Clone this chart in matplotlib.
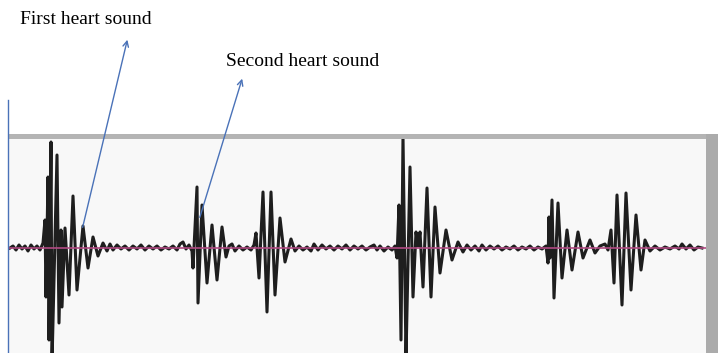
import matplotlib.pyplot as plt
from matplotlib.patches import Rectangle

# Heart sound trace: time (sample index) and amplitude (a.u.)
time = [10, 13, 16, 19, 22, 25, 28, 31, 34, 37, 40, 43,
        45, 46, 48, 49, 51, 52, 57, 59, 61, 62, 65, 69, 73, 77, 83, 88, 93, 98, 103, 107, 110, 113,
        117, 121, 125, 129, 133, 137, 141, 145, 149, 153, 157, 161, 165, 169, 173, 177, 180, 183, 186, 189, 192,
        193, 197, 198, 202, 207, 212, 217, 222, 226, 229, 232, 235, 239, 243, 247, 251, 254,
        256, 259, 263, 267, 271, 275, 280, 285, 291, 295, 299, 303, 307, 311, 314, 318, 322, 326, 330,
        334, 338, 342, 346, 350, 354, 358, 362, 366, 370, 374, 377, 380, 384, 388, 392, 395,
        397, 399, 401, 403, 406, 410, 413, 416, 418, 420, 423, 427, 431, 435, 440, 446, 452, 458, 463,
        467, 471, 475, 479, 482, 486, 490, 494, 498, 502, 506, 510, 514, 518, 522, 526, 530,
        534, 538, 542, 546,
        548, 549, 550, 552, 554, 558, 562, 567, 572, 578, 583, 590, 595, 600, 605, 608,
        611, 614, 617, 622, 626, 631, 636, 641, 645, 650, 655, 660, 665, 670, 675, 679, 682, 686, 690, 694, 698, 702]
amplitude = [0, 2, -2, 3, -1, 2, -3, 3, -1, 2, -2, 5,
             28, -49, 71, -92, 106, -115, 93, -75, 18, -59, 20, -47, 52, -42, 22, -20, 11, -8, 5, -3, 4, -2,
             3, -1, 2, -2, 2, -1, 3, -2, 2, -1, 2, -2, 1, -1, 2, -2, 4, 6, -1, 3, -3,
             -20, 61, -55, 43, -35, 23, -32, 21, -9, 2, 4, -3, 2, -2, 1, -2, 3,
             15, -30, 56, -64, 56, -47, 30, -14, 9, -3, 2, -2, 1, -3, 4, -2, 3, -1, 2,
             -2, 2, -1, 3, -2, 2, -1, 2, -2, 1, 3, -2, 2, -3, 1, -2, 2,
             -10, 43, -92, 111, -110, 81, -49, 16, 2, 16, -39, 60, -49, 41, -25, 18, -12, 6, -4,
             3, -2, 2, -3, 3, -2, 2, -1, 2, -2, 1, -1, 2, -2, 1, -1, 2,
             -2, 1, -1, 2,
             -15, 31, -10, 48, -50, 45, -30, 18, -22, 16, -10, 8, -5, 2, 4, -2,
             18, -35, 53, -57, 55, -42, 33, -22, 8, -3, 2, -2, 1, -1, 2, -1, 4, -1, 3, -2, 1, 0]

labels = ['First heart sound', 'Second heart sound']

W, H = 725, 353
fig = plt.figure(figsize=(W / 100, H / 100), dpi=100)

# waveform panel
ax = fig.add_axes([9 / W, 0, (706 - 9) / W, (353 - 138) / H], facecolor='#f8f8f8')
ax.plot(time, amplitude, color='#1e1e1e', lw=2.2, solid_joinstyle='round')
ax.axhline(0, color='#b04a82', lw=1.2, zorder=3)
ax.set_xlim(9, 706)
ax.set_ylim(-105, 110)
ax.set_xticks([])
ax.set_yticks([])
for s in ax.spines.values():
    s.set_visible(False)

# overlay in pixel coordinates for frame and annotations
ov = fig.add_axes([0, 0, 1, 1], facecolor='none')
ov.set_xlim(0, W)
ov.set_ylim(H, 0)
ov.axis('off')
ov.add_patch(Rectangle((9, 134), 709, 4.5, color='#b4b4b4', lw=0))
ov.add_patch(Rectangle((706, 134), 12, 219, color='#ababab', lw=0))
ov.plot([8, 8], [100, 353], color='#4a72b8', lw=1.0)

ov.annotate('', xy=(128, 37), xytext=(82, 230),
            arrowprops=dict(arrowstyle='->', color='#4a72b8', lw=1.0))
ov.annotate('', xy=(243, 76), xytext=(199, 220),
            arrowprops=dict(arrowstyle='->', color='#4a72b8', lw=1.0))
ov.text(20, 20, labels[0], family='Liberation Serif', fontsize=14, va='center', ha='left')
ov.text(226, 62, labels[1], family='Liberation Serif', fontsize=14, va='center', ha='left')

fig.savefig('out.png', dpi=100)
